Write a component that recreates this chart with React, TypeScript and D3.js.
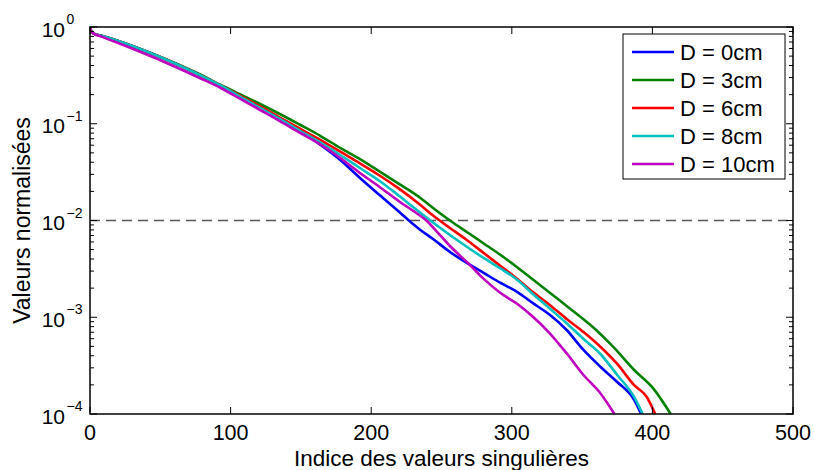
import React from "react";
import * as d3 from "d3";

const xTicks = [0, 100, 200, 300, 400, 500];
const yExponents = [0, -1, -2, -3, -4];
const threshold = 0.01;

const legendLabels = ["D = 0cm", "D = 3cm", "D = 6cm", "D = 8cm", "D = 10cm"];
const colors = ["#0000ff", "#008000", "#ff0000", "#00bfbf", "#bf00bf"];

const early: [number, number][] = [[0, 1], [1, 0.9], [3, 0.85], [7, 0.82], [20, 0.717], [43, 0.538], [78, 0.319]];

const d0cm: [number, number][] = [...early, [93, 0.2456], [107, 0.1913], [121, 0.1472], [135, 0.112], [149, 0.0842], [164, 0.0603], [178, 0.0422], [192, 0.0275], [206, 0.0183], [220, 0.01224], [228, 0.00965], [235, 0.00798], [244, 0.00644], [256, 0.00473], [268, 0.00364], [280, 0.00287], [292, 0.00226], [304, 0.00182], [315, 0.0014], [327, 0.00106], [339, 0.000738], [351, 0.000459], [363, 0.000308], [375, 0.000214], [387, 0.00014], [392, 0.0001]];

const d3cm: [number, number][] = [[0, 1], [1, 0.9], [3, 0.85], [7, 0.82], [20, 0.717], [43, 0.54], [78, 0.325], [93, 0.2515], [107, 0.2005], [121, 0.16], [135, 0.1261], [149, 0.0982], [164, 0.0747], [178, 0.0562], [192, 0.0432], [206, 0.0321], [220, 0.0238], [235, 0.0171], [244, 0.01346], [256, 0.01], [268, 0.0076], [280, 0.00579], [292, 0.0044], [304, 0.00327], [320, 0.00215], [339, 0.00131], [360, 0.000738], [372, 0.000496], [387, 0.000285], [401, 0.000181], [413, 0.0001]];

const d6cm: [number, number][] = [...early, [93, 0.2485], [107, 0.1936], [121, 0.1508], [135, 0.116], [149, 0.0893], [164, 0.0679], [178, 0.0514], [192, 0.039], [206, 0.0292], [220, 0.0212], [235, 0.01446], [244, 0.01126], [256, 0.00837], [268, 0.00629], [280, 0.00461], [292, 0.00339], [304, 0.00249], [315, 0.00182], [327, 0.00134], [339, 0.000959], [351, 0.000704], [363, 0.000496], [375, 0.000329], [387, 0.000199], [396, 0.00015], [402, 0.0001]];

const d8cm: [number, number][] = [...early, [93, 0.2485], [107, 0.189], [121, 0.1455], [135, 0.112], [149, 0.0851], [164, 0.064], [178, 0.0475], [192, 0.0349], [206, 0.0256], [220, 0.0179], [232, 0.013], [244, 0.00954], [256, 0.00708], [268, 0.00536], [280, 0.0041], [292, 0.00319], [304, 0.00243], [315, 0.00174], [327, 0.00123], [339, 0.000866], [351, 0.000596], [363, 0.000417], [375, 0.000253], [387, 0.00015], [393, 0.0001]];

const d10cm: [number, number][] = [[0, 1], [1, 0.9], [3, 0.85], [7, 0.807], [20, 0.683], [43, 0.501], [78, 0.297], [93, 0.234], [107, 0.1803], [121, 0.1387], [135, 0.1067], [149, 0.0812], [164, 0.061], [178, 0.0443], [192, 0.031], [206, 0.0222], [220, 0.01572], [230, 0.01254], [240, 0.00977], [247, 0.0076], [256, 0.00545], [268, 0.00373], [280, 0.00249], [292, 0.00178], [304, 0.00137], [315, 0.00101], [327, 0.000683], [339, 0.000424], [351, 0.000253], [363, 0.000164], [373, 0.0001]];

const allSeries = [d0cm, d3cm, d6cm, d8cm, d10cm];

const W = 814;
const H = 470;
const L = 90, R = 793, T = 27, B = 414;
const FONT = "'Liberation Sans', Arial, Helvetica, sans-serif";

export default function App() {
  const x = d3.scaleLinear().domain([0, 500]).range([L, R]);
  const y = d3.scaleLog().domain([1e-4, 1]).range([B, T]);
  const line = d3
    .line<[number, number]>()
    .x((d) => x(d[0]))
    .y((d) => y(d[1]))
    .curve(d3.curveMonotoneX);

  const minor: number[] = [];
  for (let e = -4; e < 0; e++) {
    for (let m = 2; m <= 9; m++) minor.push(m * Math.pow(10, e));
  }

  return (
    <svg
      width={W}
      height={H}
      style={{ position: "absolute", left: 0, top: 0, background: "#fff" }}
      fontFamily={FONT}
    >
      <defs>
        <clipPath id="plotclip">
          <rect x={L} y={T} width={R - L} height={B - T} />
        </clipPath>
      </defs>
      <rect x={0} y={0} width={W} height={H} fill="#fff" />

      <line
        x1={L}
        x2={R}
        y1={y(threshold)}
        y2={y(threshold)}
        stroke="#555"
        strokeWidth={1.3}
        strokeDasharray="10,6"
      />

      <g clipPath="url(#plotclip)">
        {allSeries.map((s, i) => (
          <path key={i} d={line(s) || ""} fill="none" stroke={colors[i]} strokeWidth={2.6} strokeLinejoin="round" />
        ))}
      </g>

      <rect x={L} y={T} width={R - L} height={B - T} fill="none" stroke="#000" strokeWidth={1.5} />

      {xTicks.map((t) => (
        <g key={"xt" + t}>
          <line x1={x(t)} x2={x(t)} y1={B} y2={B - 7} stroke="#000" strokeWidth={1} />
          <line x1={x(t)} x2={x(t)} y1={T} y2={T + 7} stroke="#000" strokeWidth={1} />
          <text x={x(t)} y={440} textAnchor="middle" fontSize={21.5}>
            {t}
          </text>
        </g>
      ))}

      {yExponents.map((e) => {
        const yy = y(Math.pow(10, e));
        return (
          <g key={"yt" + e}>
            <line x1={L} x2={L + 7} y1={yy} y2={yy} stroke="#000" strokeWidth={1} />
            <line x1={R} x2={R - 7} y1={yy} y2={yy} stroke="#000" strokeWidth={1} />
            <text x={65} y={yy + 9.5} textAnchor="end" fontSize={21}>
              10
            </text>
            <text x={66.5} y={yy - 3} textAnchor="start" fontSize={14}>
              {e === 0 ? "0" : "\u2212" + Math.abs(e)}
            </text>
          </g>
        );
      })}
      {minor.map((v, i) => (
        <g key={"ym" + i}>
          <line x1={L} x2={L + 4} y1={y(v)} y2={y(v)} stroke="#000" strokeWidth={1} />
          <line x1={R} x2={R - 4} y1={y(v)} y2={y(v)} stroke="#000" strokeWidth={1} />
        </g>
      ))}

      <text x={(L + R) / 2} y={466} textAnchor="middle" fontSize={22.5}>
        Indice des valeurs singulières
      </text>
      <text
        transform={`translate(30, ${(T + B) / 2}) rotate(-90)`}
        textAnchor="middle"
        fontSize={23}
      >
        Valeurs normalisées
      </text>

      <rect x={623} y={34} width={162} height={145} fill="#fff" stroke="#000" strokeWidth={1} />
      {legendLabels.map((lab, i) => {
        const ly = 52 + i * 28;
        return (
          <g key={"lg" + i}>
            <line x1={632} x2={674} y1={ly} y2={ly} stroke={colors[i]} strokeWidth={2.6} />
            <text x={680} y={ly + 8} fontSize={22}>
              {lab}
            </text>
          </g>
        );
      })}
    </svg>
  );
}
